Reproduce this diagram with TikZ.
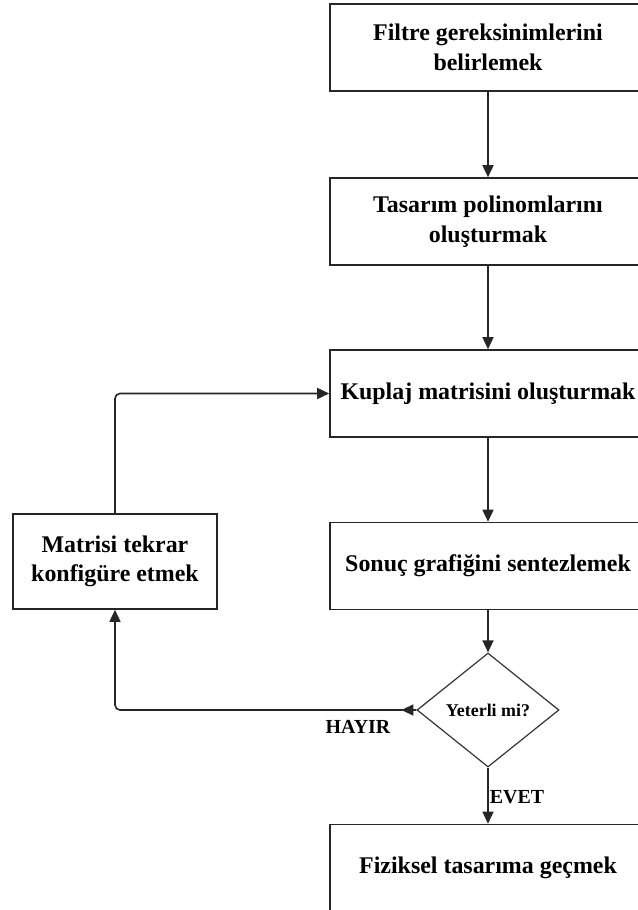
\documentclass[tikz,border=0pt]{standalone}
\usepackage{fontspec}
\setmainfont{Liberation Serif}
\usetikzlibrary{shapes.geometric,arrows.meta}
\begin{document}
\begin{tikzpicture}[x=1bp,y=-1bp,
  box/.style={draw=black!85, line width=1.6bp, minimum width=316bp, minimum height=87bp, inner sep=0pt, align=center, font=\fontsize{24}{30}\selectfont\bfseries},
  lbox/.style={draw=black!85, line width=1.6bp, minimum width=204bp, minimum height=95bp, inner sep=0pt, align=center, font=\fontsize{24}{29}\selectfont\bfseries},
  dia/.style={draw=black!80, line width=1.2bp, shape=diamond, aspect=1.25, minimum width=142bp, minimum height=114bp, inner sep=0pt, font=\fontsize{18}{21}\selectfont\bfseries},
  lbl/.style={inner sep=0pt, font=\fontsize{20}{24}\selectfont\bfseries},
  arr/.style={draw=black!85, line width=1.6bp, -{Triangle[length=12bp,width=11bp]}},
]
\useasboundingbox (0,0) rectangle (638,910);
\clip (0,0) rectangle (638,910);
\fill[white] (0,0) rectangle (638,910);

\node[box] (b1) at (488,47.5) {Filtre gereksinimlerini\\belirlemek};
\node[box] (b2) at (488,221.5) {Tasarım polinomlarını\\oluşturmak};
\node[box] (b3) at (488,393.5) {Kuplaj matrisini oluşturmak};
\node[box] (b4) at (488,566) {Sonuç grafiğini sentezlemek};
\node[dia] (d) at (488,710) {Yeterli mi?};
\node[box] (b5) at (488,868) {Fiziksel tasarıma geçmek};
\node[lbox] (lb) at (115,561.5) {Matrisi tekrar\\konfigüre etmek};

\draw[arr] (b1) -- (b2);
\draw[arr] (b2) -- (b3);
\draw[arr] (b3) -- (b4);
\draw[arr] (b4) -- (d);
\draw[arr] (d) -- (b5);
\draw[arr, rounded corners=5bp] (lb.north) |- (b3.west);
\draw[arr, rounded corners=5bp] (d.west) -| (lb.south);
\draw[arr] (d.west) -- ([xshift=-15bp]d.west);

\node[lbl] (hayir) at (358,727) {HAYIR};
\node[lbl] (evet) at (517,797) {EVET};
\end{tikzpicture}
\end{document}
